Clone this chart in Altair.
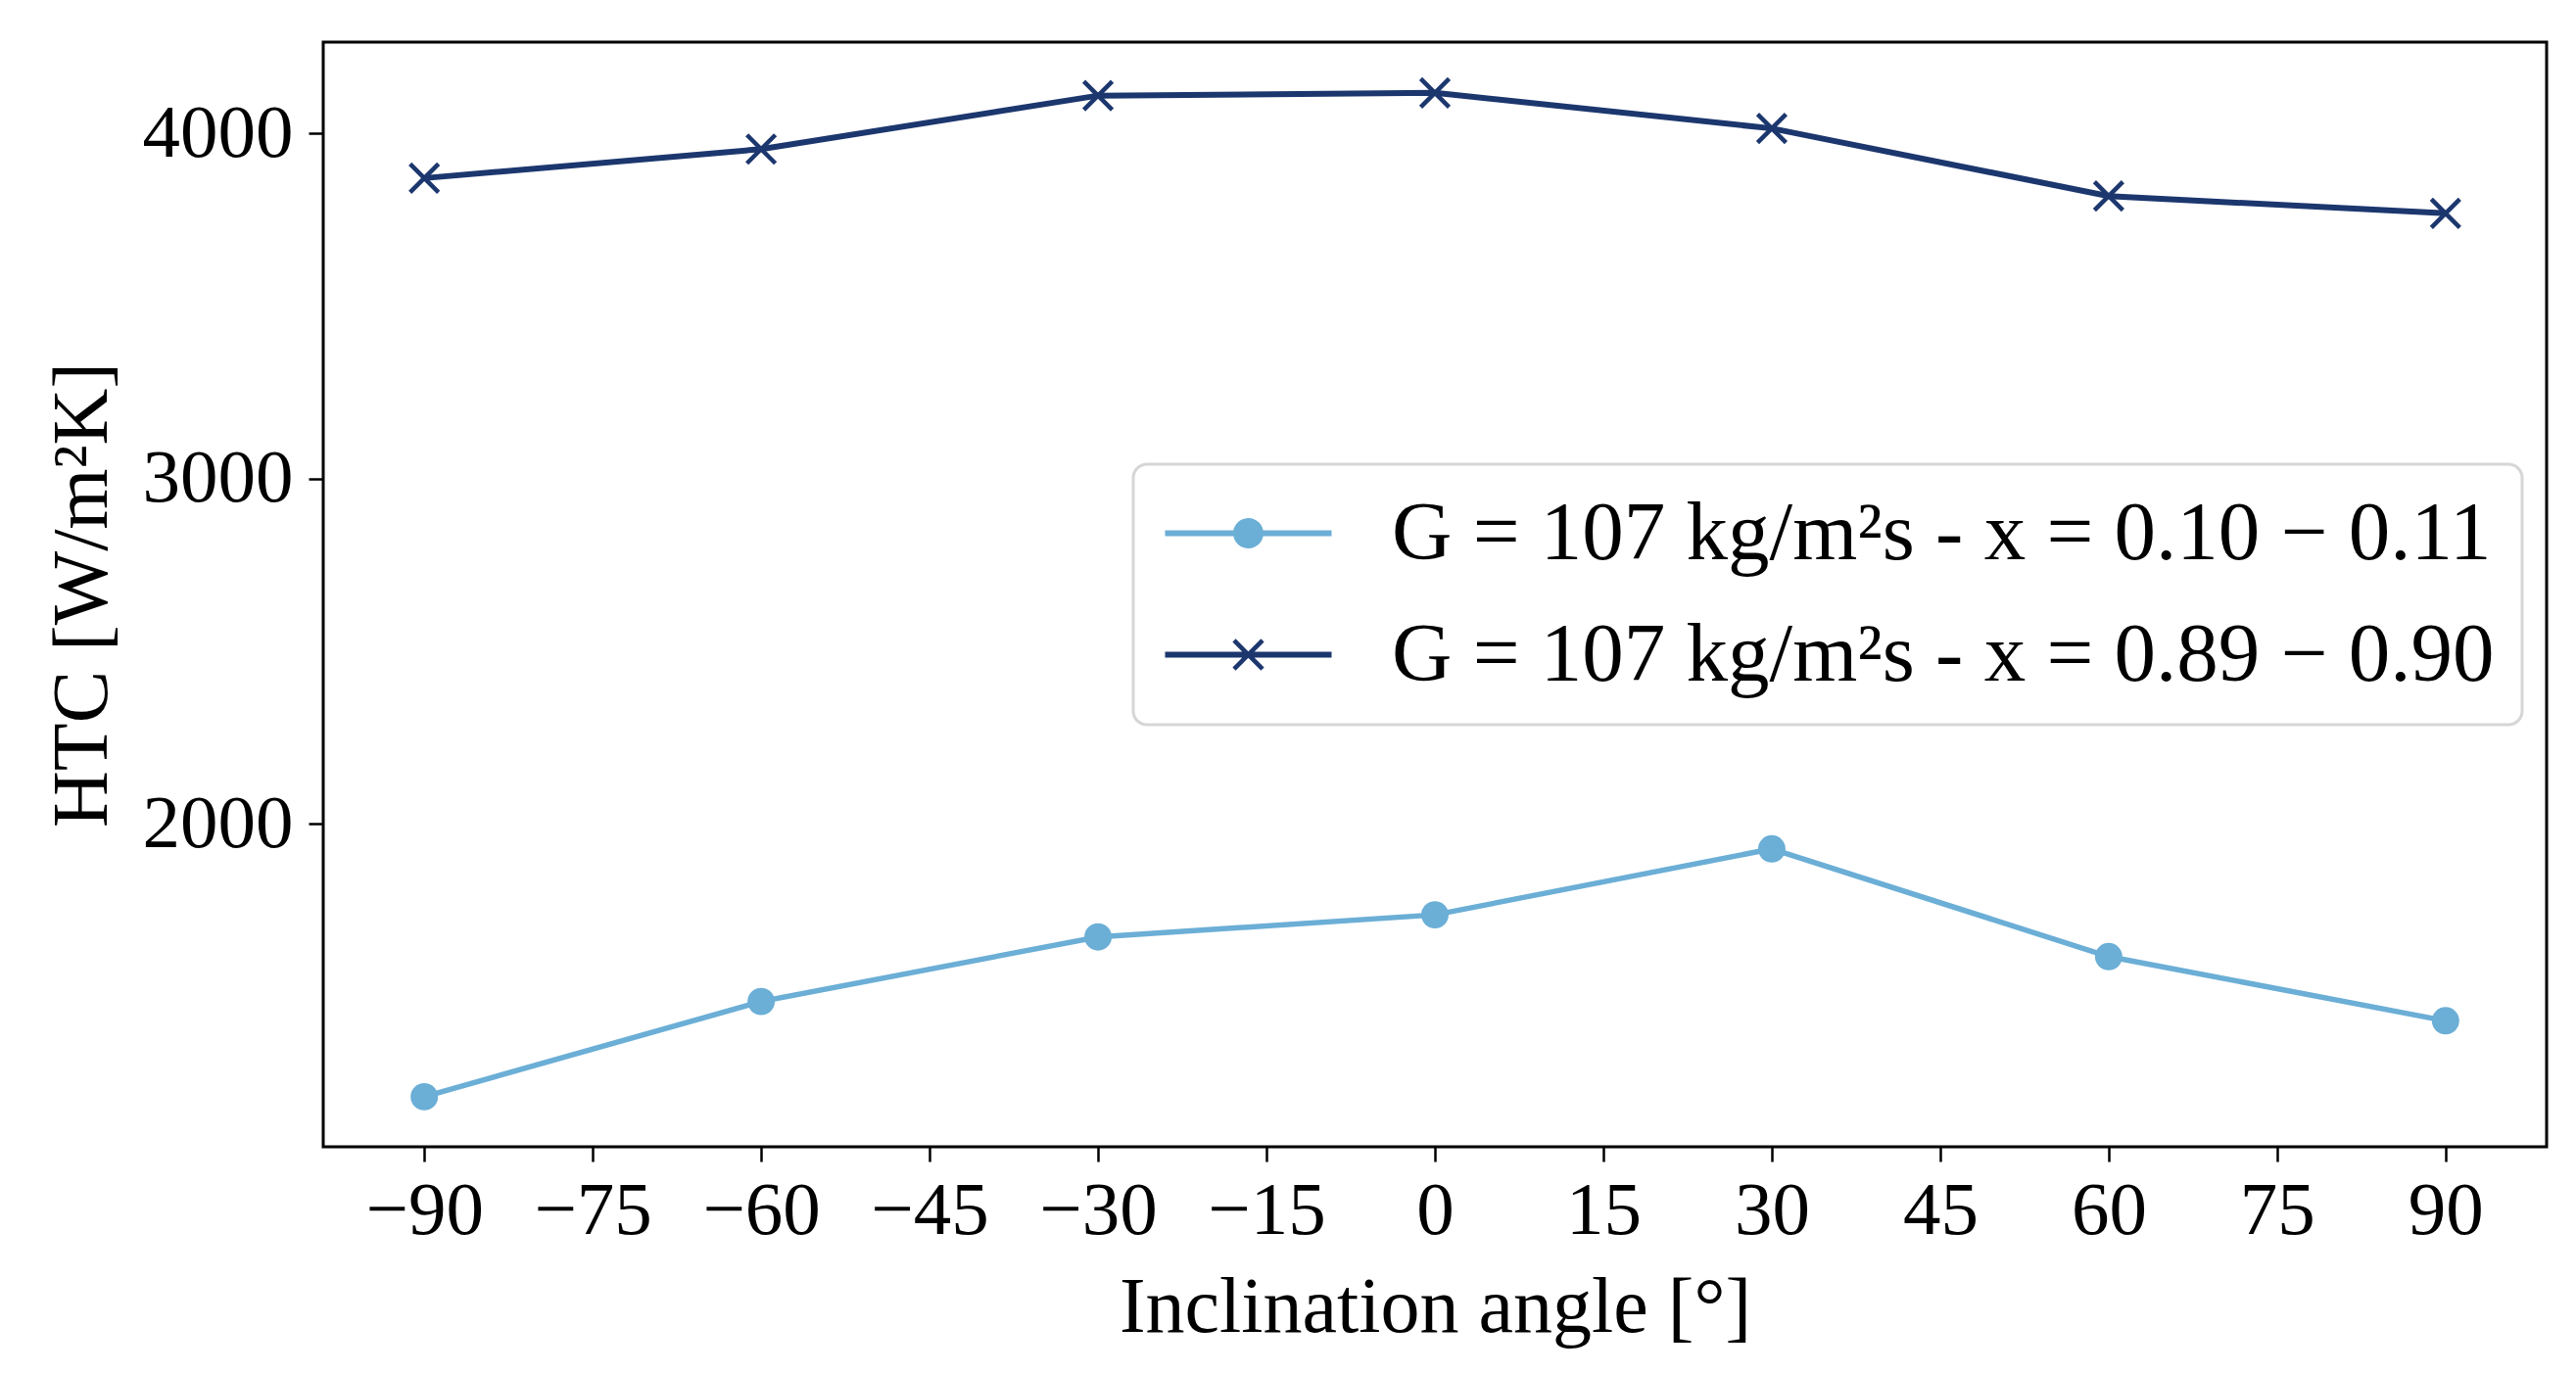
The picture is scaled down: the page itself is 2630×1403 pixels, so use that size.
import pandas as pd
import altair as alt

angles = [-90, -60, -30, 0, 30, 60, 90]
htc_low_quality = [1209, 1485, 1672, 1736, 1927, 1615, 1429]
htc_high_quality = [3870, 3954, 4109, 4117, 4014, 3818, 3768]
series_names = [
    "G = 107 kg/m²s - x = 0.10 − 0.11",
    "G = 107 kg/m²s - x = 0.89 − 0.90",
]
series_colors = ["#6baed6", "#1c376e"]
x_ticks = list(range(-90, 91, 15))
y_ticks = [2000, 3000, 4000]

FONT = "Liberation Serif"
FS = 77

df = pd.DataFrame({
    "angle": angles * 2,
    "htc": htc_low_quality + htc_high_quality,
    "series": [series_names[0]] * len(angles) + [series_names[1]] * len(angles),
})

# legend symbols: a short line with the marker on top (filled paths, scale 38 px per unit)
legend_circle = (
    "M-2.237,-0.079H-0.39V0.079H-2.237Z "
    "M0.39,-0.079H2.237V0.079H0.39Z "
    "M0.408,0A0.408,0.408,0,1,1,-0.408,0A0.408,0.408,0,1,1,0.408,0Z"
)
legend_cross = (
    "M-2.237,-0.079H2.237V0.079H-2.237Z "
    "M-0.339,-0.425L0.425,0.339L0.339,0.425L-0.425,-0.339Z "
    "M-0.425,0.339L0.339,-0.425L0.425,-0.339L-0.339,0.425Z"
)
cross_shape = "M-1,-1L1,1M-1,1L1,-1"

base = alt.Chart(df).encode(
    x=alt.X("angle:Q",
            scale=alt.Scale(domain=[-99, 99], nice=False, zero=False),
            axis=alt.Axis(values=x_ticks, title="Inclination angle [°]",
                          labelPadding=12, titlePadding=22, labelOverlap=False)),
    y=alt.Y("htc:Q",
            scale=alt.Scale(domain=[1064, 4264], nice=False, zero=False),
            axis=alt.Axis(values=y_ticks, format="d", title="HTC [W/m²K]",
                          labelPadding=16, titlePadding=20, labelOverlap=False)),
)

low = base.transform_filter(alt.datum.series == series_names[0])
high = base.transform_filter(alt.datum.series == series_names[1])

low_line = low.mark_line(color=series_colors[0], strokeWidth=5.5)
low_pts = low.mark_point(shape="circle", filled=True, size=780, opacity=1,
                         color=series_colors[0])
high_line = high.mark_line(color=series_colors[1], strokeWidth=6)
high_pts = high.mark_point(shape=cross_shape, filled=False, size=841, opacity=1,
                           strokeWidth=4.5, color=series_colors[1])

leg = alt.Legend(
    title=None, orient="none", legendX=827, legendY=431,
    symbolSize=5776, symbolStrokeWidth=0, symbolOpacity=1, symbolOffset=47,
    labelFont=FONT, labelFontSize=85, labelColor="black", labelOffset=104,
    labelLimit=0, rowPadding=38, padding=28,
    strokeColor="#d6d6d6", fillColor="white", cornerRadius=14,
)

legend_layer = base.mark_point(filled=True, opacity=0).encode(
    color=alt.Color("series:N",
                    scale=alt.Scale(domain=series_names, range=series_colors),
                    legend=leg),
    shape=alt.Shape("series:N",
                    scale=alt.Scale(domain=series_names,
                                    range=[legend_circle, legend_cross]),
                    legend=leg),
)

chart = alt.layer(low_line, low_pts, high_line, high_pts, legend_layer).properties(
    width=2270, height=1128,
    autosize=alt.AutoSizeParams(type="none"),
    padding={"left": 322, "top": 35, "right": 22, "bottom": 224},
    background="white",
).configure_view(
    stroke="black", strokeWidth=3
).configure_axis(
    labelFont=FONT, labelFontSize=FS, labelColor="black",
    titleFont=FONT, titleFontSize=80, titleFontWeight="normal", titleColor="black",
    tickColor="black", tickWidth=2.5, tickSize=15, domain=False, grid=False,
).configure_legend(
    strokeWidth=3
)

chart.save("out.html", embed_options={"renderer": "svg", "actions": False})
